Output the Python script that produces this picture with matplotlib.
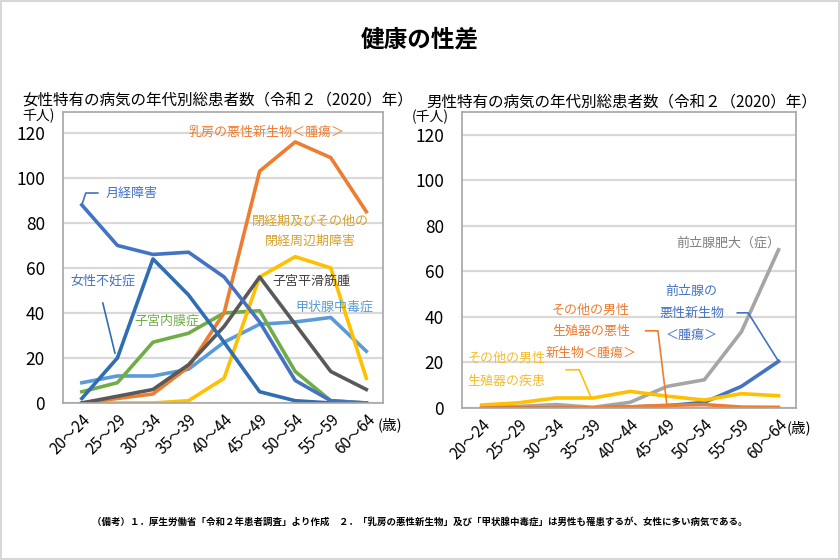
import matplotlib
matplotlib.use("Agg")
import matplotlib.pyplot as plt
from matplotlib.patches import Rectangle

plt.rcParams['font.family'] = ['Noto Sans CJK JP', 'DejaVu Sans']

ages = ["20～24", "25～29", "30～34", "35～39", "40～44", "45～49", "50～54", "55～59", "60～64"]

# Female-specific diseases (thousand persons)
f_breast = [0, 2, 4, 16, 40, 103, 116, 109, 85]
f_menopause = [0, 0, 0, 1, 11, 56, 65, 60, 11]
f_myoma = [0, 3, 6, 17, 34, 56, 35, 14, 6]
f_endometriosis = [5, 9, 27, 31, 40, 41, 14, 1, 0]
f_thyroid = [9, 12, 12, 15, 27, 35, 36, 38, 23]
f_menstrual = [88, 70, 66, 67, 56, 36, 10, 1, 0]
f_infertility = [2, 20, 64, 48, 27, 5, 1, 0, 0]

# Male-specific diseases (thousand persons)
m_bph = [0.3, 0.7, 1.5, 0.3, 2.5, 9.5, 12.4, 33.5, 69.5]
m_prostate_cancer = [0, 0, 0, 0, 0.5, 1, 2.5, 9.5, 20.5]
m_other_cancer = [0, 0, 0, 0.1, 0.5, 1.2, 1.5, 0.4, 0.3]
m_other_disease = [1.3, 2.3, 4.4, 4.4, 7.3, 5.2, 3.5, 6.3, 5.4]

BLUE = "#4472C4"
BLUE2 = "#2F6DB5"
LBLUE = "#5B9BD5"
ORANGE = "#ED7D31"
YELLOW = "#FFC000"
GREEN = "#70AD47"
DGRAY = "#595959"
GRAY = "#A5A5A5"

fig = plt.figure(figsize=(8.4, 5.6), dpi=100)
fig.patches.append(Rectangle((0.001, 0.001), 0.998, 0.998, transform=fig.transFigure,
                             fill=False, edgecolor="#D0D0D0", linewidth=1.2))

fig.text(0.5, 0.93, "健康の性差", ha="center", va="center", fontsize=17, fontweight="bold")

x = list(range(len(ages)))
LW = 2.6
FS = 9.4


def style(ax, top):
    ax.set_xlim(-0.53, 8.47)
    ax.set_ylim(0, top)
    ax.set_yticks([0, 20, 40, 60, 80, 100, 120])
    ax.tick_params(axis="y", length=0, labelsize=12.5, pad=13)
    ax.set_xticks(x)
    ax.set_xticklabels(ages, rotation=45, ha="right", rotation_mode="anchor", fontsize=11)
    ax.tick_params(axis="x", length=0, pad=6)
    ax.grid(axis="y", color="#D9D9D9", linewidth=1.6)
    ax.set_axisbelow(True)
    for s in ax.spines.values():
        s.set_color("#A6A6A6")
        s.set_linewidth(1.2)


# Left: female
ax1 = fig.add_axes([0.075, 0.2804, 0.381, 0.5196])
style(ax1, 129.3)
ax1.plot(x, f_thyroid, color=LBLUE, lw=LW)
ax1.plot(x, f_endometriosis, color=GREEN, lw=LW)
ax1.plot(x, f_menopause, color=YELLOW, lw=LW)
ax1.plot(x, f_breast, color=ORANGE, lw=LW)
ax1.plot(x, f_myoma, color=DGRAY, lw=LW)
ax1.plot(x, f_infertility, color=BLUE2, lw=LW)
ax1.plot(x, f_menstrual, color=BLUE, lw=LW)

ax1.text(5.2, 120.4, "乳房の悪性新生物＜腫瘍＞", color=ORANGE, fontsize=FS, ha="center", va="center")
ax1.text(0.67, 93.3, "月経障害", color=BLUE, fontsize=FS, ha="left", va="center")
ax1.plot([0, 0.11, 0.45], [88, 93.3, 93.3], color=BLUE, lw=1.2)
ax1.text(6.43, 80.9, "閉経期及びその他の", color="#D4A22C", fontsize=FS, ha="center", va="center")
ax1.text(6.43, 71.6, "閉経周辺期障害", color="#D4A22C", fontsize=FS, ha="center", va="center")
ax1.text(6.45, 54.2, "子宮平滑筋腫", color="#404040", fontsize=FS, ha="center", va="center")
ax1.text(7.1, 42.7, "甲状腺中毒症", color=LBLUE, fontsize=FS, ha="center", va="center")
ax1.text(2.38, 36.4, "子宮内膜症", color=GREEN, fontsize=FS, ha="center", va="center")
ax1.text(0.6, 54.2, "女性不妊症", color=BLUE, fontsize=FS, ha="center", va="center")
ax1.plot([0.59, 0.93], [44.4, 22.2], color=BLUE2, lw=1.2)

fig.text(0.026, 0.821, "女性特有の病気の年代別総患者数（令和２（2020）年）", fontsize=11.2, ha="left", va="center")
fig.text(0.026, 0.793, "千人)", fontsize=10, ha="left", va="center")
fig.text(0.449, 0.241, "(歳)", fontsize=10.5, ha="left", va="center")

# Right: male
ax2 = fig.add_axes([0.55, 0.2714, 0.3976, 0.5286])
style(ax2, 130)
ax2.plot(x, m_bph, color=GRAY, lw=LW)
ax2.plot(x, m_prostate_cancer, color=BLUE, lw=LW)
ax2.plot(x, m_other_disease, color=YELLOW, lw=LW)
ax2.plot(x, m_other_cancer, color=ORANGE, lw=LW)

ax2.text(6.65, 72.6, "前立腺肥大（症）", color="#7F7F7F", fontsize=FS, ha="center", va="center")
for yy, t in zip([51.1, 41.4, 31.8], ["前立腺の", "悪性新生物", "＜腫瘍＞"]):
    ax2.text(5.66, yy, t, color=BLUE, fontsize=FS, ha="center", va="center")
ax2.plot([6.89, 7.18, 8], [41.8, 41.8, 20.5], color=BLUE, lw=1.2)
for yy, t in zip([42.7, 33.5, 23.9], ["その他の男性", "生殖器の悪性", "新生物＜腫瘍＞"]):
    ax2.text(2.95, yy, t, color=ORANGE, fontsize=FS, ha="center", va="center")
ax2.plot([4.42, 4.75, 4.99], [33.9, 33.9, 1.5], color=ORANGE, lw=1.2)
for yy, t in zip([21.6, 11.5], ["その他の男性", "生殖器の疾患"]):
    ax2.text(0.67, yy, t, color="#F5BD2E", fontsize=FS, ha="center", va="center")
ax2.plot([2.28, 2.63, 2.95], [16.8, 16.8, 4.5], color=YELLOW, lw=1.2)

fig.text(0.508, 0.818, "男性特有の病気の年代別総患者数（令和２（2020）年）", fontsize=11.2, ha="left", va="center")
fig.text(0.49, 0.791, "(千人)", fontsize=10, ha="left", va="center")
fig.text(0.937, 0.236, "(歳)", fontsize=10.5, ha="left", va="center")

fig.text(0.5, 0.069, "（備考）１．厚生労働省「令和２年患者調査」より作成　２．「乳房の悪性新生物」及び「甲状腺中毒症」は男性も罹患するが、女性に多い病気である。",
         fontsize=6.8, fontweight="bold", ha="center", va="center")

fig.savefig("out.png", dpi=100)
